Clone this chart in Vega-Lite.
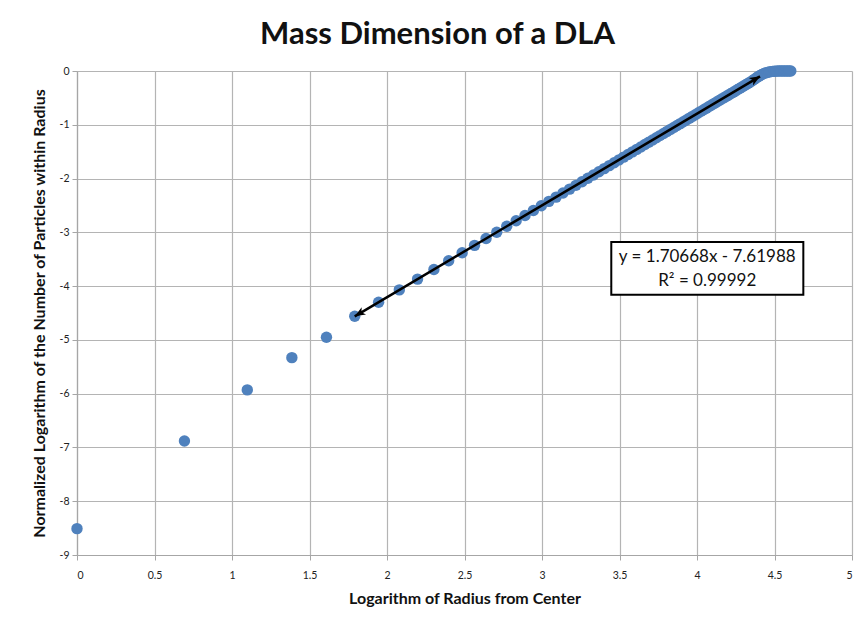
{
  "$schema": "https://vega.github.io/schema/vega-lite/v6.json",
  "width": 775,
  "height": 484,
  "autosize": {"type": "none"},
  "padding": {"left": 77, "top": 71, "right": 8, "bottom": 74},
  "background": "white",
  "title": {
    "text": "Mass Dimension of a DLA",
    "font": "Lato",
    "fontSize": 31,
    "fontWeight": "bold",
    "color": "#111111",
    "anchor": "middle",
    "dx": -27,
    "offset": 14
  },
  "datasets": {
    "pts": [
      {"x": 0, "y": -8.51}, {"x": 0.6931, "y": -6.88}, {"x": 1.0986, "y": -5.93}, {"x": 1.3863, "y": -5.33},
      {"x": 1.6094, "y": -4.95}, {"x": 1.7918, "y": -4.56}, {"x": 1.9459, "y": -4.30}, {"x": 2.0794, "y": -4.07},
      {"x": 2.1972, "y": -3.87}, {"x": 2.3026, "y": -3.69}, {"x": 2.3979, "y": -3.527}, {"x": 2.4849, "y": -3.379},
      {"x": 2.5649, "y": -3.242}, {"x": 2.6391, "y": -3.116}, {"x": 2.7081, "y": -2.998}, {"x": 2.7726, "y": -2.888},
      {"x": 2.8332, "y": -2.785}, {"x": 2.8904, "y": -2.687}, {"x": 2.9444, "y": -2.595}, {"x": 2.9957, "y": -2.507},
      {"x": 3.0445, "y": -2.424}, {"x": 3.0910, "y": -2.345}, {"x": 3.1355, "y": -2.269}, {"x": 3.1781, "y": -2.196},
      {"x": 3.2189, "y": -2.126}, {"x": 3.2581, "y": -2.059}, {"x": 3.2958, "y": -1.995}, {"x": 3.3322, "y": -1.933},
      {"x": 3.3673, "y": -1.873}, {"x": 3.4012, "y": -1.815}, {"x": 3.4340, "y": -1.759}, {"x": 3.4657, "y": -1.705},
      {"x": 3.4965, "y": -1.653}, {"x": 3.5264, "y": -1.602}, {"x": 3.5553, "y": -1.552}, {"x": 3.5835, "y": -1.504},
      {"x": 3.6109, "y": -1.457}, {"x": 3.6376, "y": -1.412}, {"x": 3.6636, "y": -1.367}, {"x": 3.6889, "y": -1.324},
      {"x": 3.7136, "y": -1.282}, {"x": 3.7377, "y": -1.241}, {"x": 3.7612, "y": -1.201}, {"x": 3.7842, "y": -1.162},
      {"x": 3.8067, "y": -1.123}, {"x": 3.8286, "y": -1.086}, {"x": 3.8501, "y": -1.049}, {"x": 3.8712, "y": -1.013},
      {"x": 3.8918, "y": -0.978}, {"x": 3.9120, "y": -0.943}, {"x": 3.9318, "y": -0.910}, {"x": 3.9512, "y": -0.876},
      {"x": 3.9703, "y": -0.844}, {"x": 3.9890, "y": -0.812}, {"x": 4.0073, "y": -0.781}, {"x": 4.0254, "y": -0.750},
      {"x": 4.0431, "y": -0.720}, {"x": 4.0604, "y": -0.690}, {"x": 4.0775, "y": -0.661}, {"x": 4.0943, "y": -0.632},
      {"x": 4.1109, "y": -0.604}, {"x": 4.1271, "y": -0.576}, {"x": 4.1431, "y": -0.549}, {"x": 4.1589, "y": -0.522},
      {"x": 4.1744, "y": -0.496}, {"x": 4.1897, "y": -0.470}, {"x": 4.2047, "y": -0.444}, {"x": 4.2195, "y": -0.419},
      {"x": 4.2341, "y": -0.394}, {"x": 4.2485, "y": -0.369}, {"x": 4.2627, "y": -0.345}, {"x": 4.2767, "y": -0.321},
      {"x": 4.2905, "y": -0.297}, {"x": 4.3041, "y": -0.274}, {"x": 4.3175, "y": -0.251}, {"x": 4.3307, "y": -0.229},
      {"x": 4.3438, "y": -0.206}, {"x": 4.3567, "y": -0.180}, {"x": 4.3694, "y": -0.155}, {"x": 4.3820, "y": -0.130},
      {"x": 4.3944, "y": -0.105}, {"x": 4.4067, "y": -0.085}, {"x": 4.4188, "y": -0.065}, {"x": 4.4308, "y": -0.048},
      {"x": 4.4427, "y": -0.035}, {"x": 4.4543, "y": -0.025}, {"x": 4.4659, "y": -0.017}, {"x": 4.4773, "y": -0.011},
      {"x": 4.4886, "y": -0.007}, {"x": 4.4998, "y": -0.004}, {"x": 4.5109, "y": -0.002}, {"x": 4.5218, "y": -0.001},
      {"x": 4.5326, "y": 0}, {"x": 4.5433, "y": 0}, {"x": 4.5539, "y": 0}, {"x": 4.5643, "y": 0},
      {"x": 4.5747, "y": 0}, {"x": 4.5850, "y": 0}, {"x": 4.5951, "y": 0}, {"x": 4.6052, "y": 0}
    ],
    "trend": [
      {"x": 1.7918, "y": -4.5619, "end": "lower"},
      {"x": 4.4067, "y": -0.0990, "end": "upper"}
    ],
    "box": [
      {"x": 3.447, "x2": 4.686, "y": -3.178, "y2": -4.161}
    ],
    "labels": [
      {"x": 4.066, "y": -3.45, "t": "y = 1.70668x - 7.61988"},
      {"x": 4.066, "y": -3.9, "t": "R² = 0.99992"}
    ]
  },
  "config": {
    "view": {"stroke": null},
    "axis": {
      "labelFont": "Lato",
      "labelFontSize": 10.5,
      "labelColor": "#222222",
      "titleFont": "Lato",
      "titleFontSize": 16,
      "titleFontWeight": "bold",
      "titleColor": "#111111",
      "gridColor": "#b4b4b4",
      "gridWidth": 1.2,
      "gridOpacity": 1,
      "domainColor": "#a6a6a6",
      "domainWidth": 1.2,
      "tickColor": "#a6a6a6",
      "tickSize": 5
    }
  },
  "layer": [
    {
      "data": {"name": "pts"},
      "mark": {"type": "point", "filled": true, "shape": "circle", "size": 130, "color": "#4F81BD", "opacity": 1},
      "encoding": {
        "x": {
          "field": "x", "type": "quantitative",
          "scale": {"domain": [0, 5], "nice": false, "zero": false},
          "axis": {"values": [0, 0.5, 1, 1.5, 2, 2.5, 3, 3.5, 4, 4.5, 5], "labelExpr": "'' + datum.value", "title": "Logarithm of Radius from Center", "labelPadding": 10, "titlePadding": 10}
        },
        "y": {
          "field": "y", "type": "quantitative",
          "scale": {"domain": [-9, 0], "nice": false, "zero": false},
          "axis": {"values": [-9, -8, -7, -6, -5, -4, -3, -2, -1, 0], "labelExpr": "'' + datum.value", "title": "Normalized Logarithm of the Number of Particles within Radius", "labelPadding": 3, "titlePadding": 12}
        }
      }
    },
    {
      "data": {"name": "trend"},
      "mark": {"type": "line", "color": "#000000", "strokeWidth": 2.5},
      "encoding": {
        "x": {"field": "x", "type": "quantitative"},
        "y": {"field": "y", "type": "quantitative"}
      }
    },
    {
      "data": {"name": "trend"},
      "transform": [{"filter": "datum.end == 'upper'"}],
      "mark": {"type": "point", "filled": true, "color": "#000000", "opacity": 1, "shape": "M0,0L-0.6,1.5L0,1.1L0.6,1.5Z", "size": 200, "angle": 59.4},
      "encoding": {
        "x": {"field": "x", "type": "quantitative"},
        "y": {"field": "y", "type": "quantitative"}
      }
    },
    {
      "data": {"name": "trend"},
      "transform": [{"filter": "datum.end == 'lower'"}],
      "mark": {"type": "point", "filled": true, "color": "#000000", "opacity": 1, "shape": "M0,0L-0.6,1.5L0,1.1L0.6,1.5Z", "size": 200, "angle": 239.4},
      "encoding": {
        "x": {"field": "x", "type": "quantitative"},
        "y": {"field": "y", "type": "quantitative"}
      }
    },
    {
      "data": {"name": "box"},
      "mark": {"type": "rect", "fill": "white", "stroke": "#000000", "strokeWidth": 2},
      "encoding": {
        "x": {"field": "x", "type": "quantitative"},
        "x2": {"field": "x2"},
        "y": {"field": "y", "type": "quantitative"},
        "y2": {"field": "y2"}
      }
    },
    {
      "data": {"name": "labels"},
      "mark": {"type": "text", "font": "Lato", "fontSize": 17, "color": "#111111", "align": "center", "baseline": "middle"},
      "encoding": {
        "x": {"field": "x", "type": "quantitative"},
        "y": {"field": "y", "type": "quantitative"},
        "text": {"field": "t"}
      }
    }
  ]
}
